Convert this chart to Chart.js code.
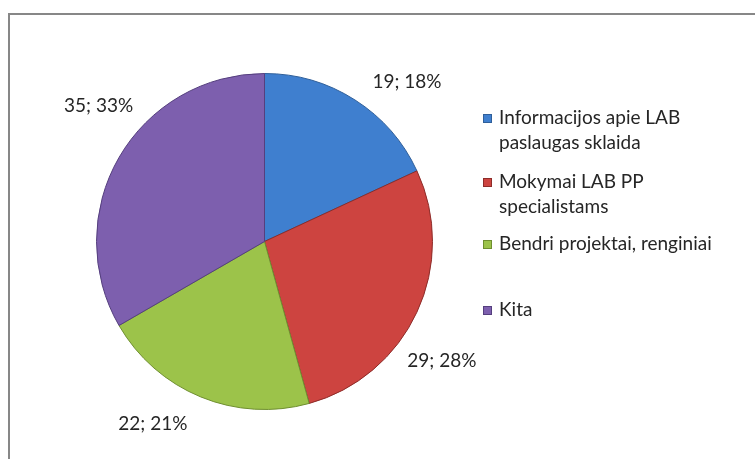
<!DOCTYPE html>
<html>
<head>
<meta charset="utf-8">
<script src="https://cdn.jsdelivr.net/npm/chart.js@4.4.1/dist/chart.umd.min.js"></script>
<style>
  html, body { margin: 0; padding: 0; background: #fff; overflow: hidden; }
  #wrap { position: relative; width: 755px; height: 459px; }
</style>
</head>
<body>
<div id="wrap"><canvas id="chart" width="755" height="459"></canvas></div>
<script>
// duomenys
const categories = ['Informacijos apie LAB paslaugas sklaida', 'Mokymai LAB PP specialistams', 'Bendri projektai, renginiai', 'Kita'];
const legendLines = [['Informacijos apie LAB', 'paslaugas sklaida'], ['Mokymai LAB PP', 'specialistams'], ['Bendri projektai, renginiai'], ['Kita']];
const values = [19, 29, 22, 35];
const colors = ['#3f7fcf', '#cd4440', '#9cc34a', '#7d5fae'];
const borders = ['#2f5f9a', '#8e2c29', '#6f8f30', '#553f7e'];

const FONT = 'Lato, "Open Sans", sans-serif';

// rėmelis aplink diagramą
const framePlugin = {
    id: 'frame',
    beforeDraw(chart) {
        const ctx = chart.ctx;
        ctx.save();
        ctx.fillStyle = '#fff';
        ctx.fillRect(0, 0, chart.width, chart.height);
        ctx.strokeStyle = '#878787';
        ctx.lineWidth = 2;
        ctx.strokeRect(9, 14, chart.width + 20, chart.height + 20);
        ctx.restore();
    }
};

// reikšmių etiketės už skritulio ribų
const labelPlugin = {
    id: 'sliceLabels',
    afterDatasetsDraw(chart) {
        const ctx = chart.ctx;
        const meta = chart.getDatasetMeta(0);
        const total = values.reduce((a, b) => a + b, 0);
        ctx.save();
        ctx.font = '19px ' + FONT;
        ctx.fillStyle = '#262626';
        ctx.textAlign = 'center';
        ctx.textBaseline = 'middle';
        meta.data.forEach((arc, i) => {
            const mid = (arc.startAngle + arc.endAngle) / 2 + 0.16;
            const dist = arc.outerRadius + 46;
            const x = arc.x + Math.cos(mid) * dist;
            const y = arc.y + Math.sin(mid) * dist;
            const pct = Math.round(values[i] / total * 100);
            ctx.fillText(values[i] + '; ' + pct + '%', x, y);
        });
        ctx.restore();
    }
};

// legenda dešinėje
const legendPlugin = {
    id: 'sideLegend',
    afterDraw(chart) {
        const ctx = chart.ctx;
        const rows = [118, 182, 244, 310];
        ctx.save();
        ctx.font = '19px ' + FONT;
        ctx.textBaseline = 'middle';
        legendLines.forEach((lines, i) => {
            const y = rows[i];
            ctx.fillStyle = colors[i];
            ctx.fillRect(483, y - 4, 9, 9);
            ctx.strokeStyle = borders[i];
            ctx.lineWidth = 1;
            ctx.strokeRect(483.5, y - 3.5, 8, 8);
            ctx.fillStyle = '#262626';
            lines.forEach((t, j) => ctx.fillText(t, 499, y + j * 25));
        });
        ctx.restore();
    }
};

new Chart(document.getElementById('chart'), {
    type: 'pie',
    data: {
        labels: categories,
        datasets: [{
            data: values,
            backgroundColor: colors,
            borderColor: borders,
            borderWidth: 1,
            hoverOffset: 0
        }]
    },
    options: {
        responsive: false,
        animation: false,
        layout: { padding: { left: 96, right: 322, top: 73, bottom: 49 } },
        plugins: {
            legend: { display: false },
            tooltip: { enabled: false }
        }
    },
    plugins: [framePlugin, labelPlugin, legendPlugin]
});
</script>
</body>
</html>
